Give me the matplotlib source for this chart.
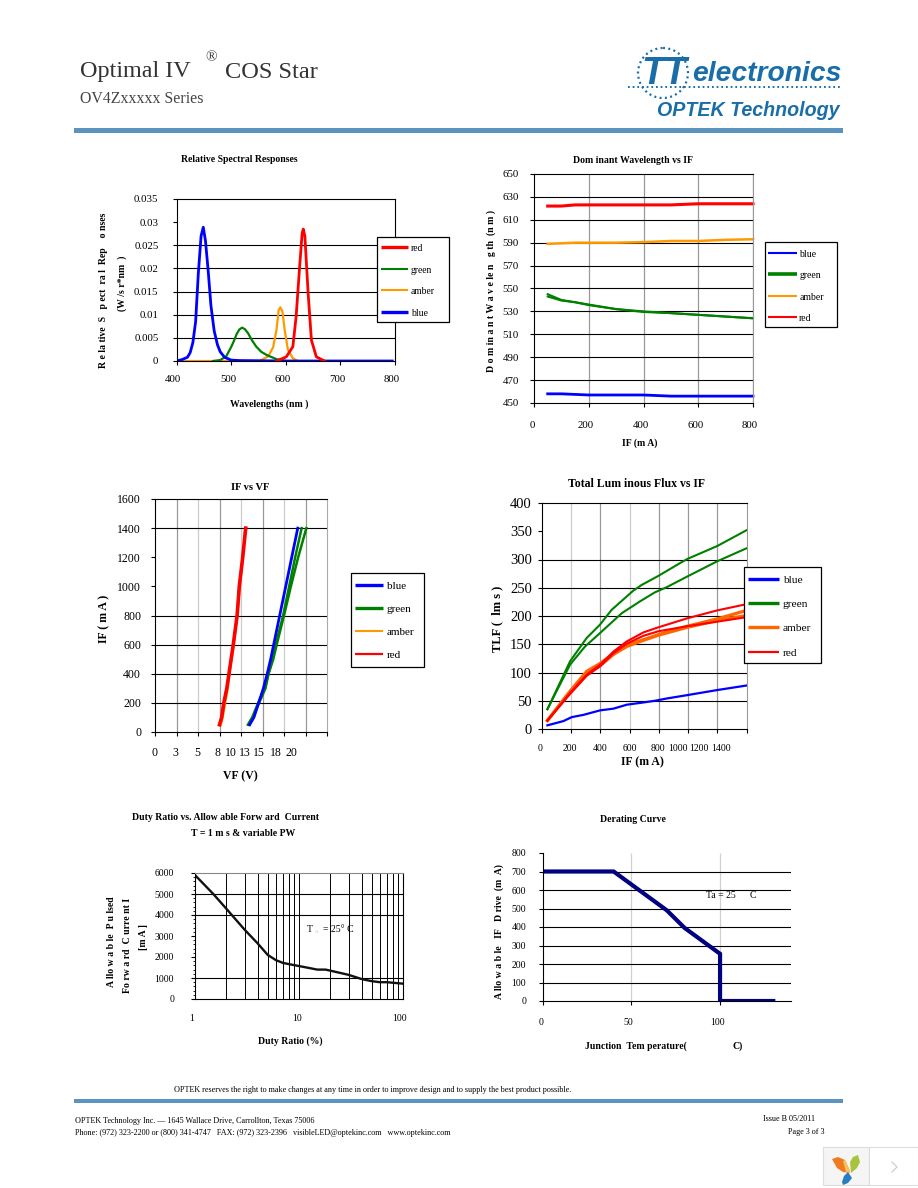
import numpy as np
from matplotlib import pyplot as plt
from matplotlib.patches import Circle, Rectangle, Polygon
from matplotlib.transforms import Affine2D

W, H = 918, 1188
SERIF = 'Liberation Serif'
BAR = '#5b93bf'
LOGO = '#1a6ea8'
RED = '#ff0000'
GREEN = '#008000'
AMBER = '#ff9900'
ORANGE = '#ff6600'
BLUE = '#0000ff'

# Relative spectral response
spec_blue_x = [400, 410, 420, 425, 430, 435, 440, 445, 449, 453, 458, 463, 469, 475, 480, 488, 500, 515, 600, 795]
spec_blue_y = [0, .0003, .0008, .0018, .004, .0085, .019, .027, .0289, .026, .0195, .012, .0065, .0035, .002, .0008, .0002, .0001, 0, 0]
spec_green_x = [467, 480, 491, 500, 505, 510, 515, 520, 525, 531, 538, 546, 555, 565, 583, 601]
spec_green_y = [0, .0002, .001, .003, .0043, .0058, .0068, .0072, .0069, .006, .0045, .0031, .002, .0013, .0004, 0]
spec_amber_x = [405, 552, 568, 577, 583, 587, 590, 594, 598, 604, 613, 622]
spec_amber_y = [0, 0, .001, .003, .0067, .011, .0116, .0107, .0067, .0024, .0006, 0]
spec_red_x = [583, 601, 613, 619, 625, 630, 632, 635, 641, 647, 656, 671]
spec_red_y = [0, .0009, .0031, .0096, .0197, .0276, .0285, .027, .0146, .0045, .0009, 0]

# Dominant wavelength
dom_x = [50, 100, 150, 200, 300, 400, 500, 600, 700, 800]
dom_blue = [458, 458, 457.5, 457, 457, 457, 456, 456, 456, 456]
dom_green1 = [545, 540, 538, 536, 532, 530, 528.5, 527, 525.5, 524]
dom_green2 = [543, 539.5, 538, 535.5, 532, 529.5, 528.5, 527, 525.5, 524]
dom_amber = [589, 589.5, 590, 590, 590, 590.5, 591.5, 591.5, 592.5, 593]
dom_red = [622, 622, 623, 623, 623, 623, 623, 624, 624, 624]

# IF vs VF
vf_if = [50, 100, 200, 300, 400, 500, 600, 800, 1000, 1200, 1400]
vf_blue = [11.0, 11.5, 12.05, 12.6, 13.05, 13.45, 13.8, 14.5, 15.2, 15.9, 16.6]
vf_green1 = [10.8, 11.3, 12.0, 12.75, 13.2, 13.65, 14.05, 14.9, 15.6, 16.3, 17.05]
vf_green2 = [11.0, 11.4, 12.1, 12.85, 13.2, 13.75, 14.15, 15.0, 15.8, 16.65, 17.6]
vf_amber = [7.65, 7.85, 8.15, 8.45, 8.65, 8.9, 9.15, 9.55, 9.85, 10.2, 10.5]
vf_red = [7.5, 7.75, 8.0, 8.35, 8.6, 8.85, 9.1, 9.55, 9.8, 10.2, 10.55]

# Total luminous flux
tlf_green1_x = [39, 194, 307, 399, 478, 626, 683, 797, 934, 995, 1200, 1400]
tlf_green1 = [35, 120, 161, 185, 211, 245, 255, 271, 292, 301, 324, 352]
tlf_green2_x = [39, 194, 296, 399, 547, 672, 774, 854, 995, 1200, 1400]
tlf_green2 = [35, 114, 146, 170, 205, 226, 242, 251, 270, 297, 320]
tlf_x = [39, 194, 307, 399, 490, 581, 695, 797, 995, 1200, 1400]
tlf_red1 = [15, 64, 96, 114, 137, 155, 171, 180, 196, 210, 221]
tlf_red2 = [15, 62, 94, 111, 134, 151, 165, 173, 182, 190, 198]
tlf_amber1 = [15, 67, 102, 116, 133, 149, 158, 167, 182, 195, 210]
tlf_amber2 = [15, 66, 99, 112, 132, 146, 157, 166, 180, 192, 201]
tlf_blue_x = [39, 148, 205, 285, 399, 490, 581, 695, 774, 854, 995, 1200, 1400]
tlf_blue = [6.5, 14, 21, 25, 33, 36, 43, 47, 50, 54, 60, 69, 77]

# Duty ratio
duty_x = [1, 1.5, 2, 3, 4, 5, 6, 7, 8, 10, 15, 18, 20, 30, 40, 50, 60, 70, 100]
duty_y = [5900, 5000, 4300, 3300, 2650, 2100, 1850, 1720, 1660, 1570, 1400, 1400, 1350, 1150, 950, 850, 800, 800, 730]

# Derating
der_x = [0, 40, 50, 55, 70, 80, 100, 100, 130]
der_y = [700, 700, 630, 595, 490, 395, 255, 0, 0]

plt.rcParams['font.family'] = [SERIF, 'DejaVu Serif']
plt.rcParams['axes.linewidth'] = 0.8

fig = plt.figure(figsize=(W / 100, H / 100), dpi=100)
page = fig.add_axes([0, 0, 1, 1], zorder=5)
page.set_xlim(0, W)
page.set_ylim(H, 0)
page.axis('off')
page.patch.set_alpha(0)


def make_axes(left, right, top, bottom):
    return fig.add_axes([left / W, 1 - bottom / H, (right - left) / W, (bottom - top) / H])


def shift_labels(ax, shifts):
    # Excel squeezed its tick labels to the left of the ticks
    for label, dx in zip(ax.get_xticklabels(), shifts):
        label.set_transform(label.get_transform() + Affine2D().translate(dx, 0))


def style(ax, size, pad_x, pad_y=3):
    ax.tick_params(axis='x', labelsize=size, length=3, width=0.8, pad=pad_x)
    ax.tick_params(axis='y', labelsize=size, length=3, width=0.8, pad=pad_y)
    ax.set_axisbelow(True)


def text(x, y, s, size=7, bold=True, rot=0, ha='center', color='black', family=SERIF, style_='normal'):
    page.text(x, y, s, fontsize=size, fontweight='bold' if bold else 'normal', rotation=rot, ha=ha, va='center',
              color=color, family=family, style=style_)


def legend_box(box, handle, text_x, rows, size):
    # box = left, right, top, bottom in page pixels
    left, right, top, bottom = box
    page.add_patch(Rectangle((left, top), right - left, bottom - top, fc='white', ec='black', lw=0.9, zorder=3))
    for y, (color, name, lw) in rows:
        page.plot(handle, [y, y], color=color, lw=lw, zorder=4, solid_capstyle='butt')
        text(text_x, y + 1.5, name, size, False, ha='left')


# Header
text(80, 72, 'Optimal IV', 17.4, False, ha='left', color='#333333')
text(211, 58, '®', 11, False, color='#333333')
text(225, 72, 'COS Star', 17.6, False, ha='left', color='#333333')
text(80, 99, 'OV4Zxxxxx Series', 11.4, False, ha='left', color='#444444')
page.add_patch(Rectangle((74, 128), 769, 5, color=BAR, lw=0))
page.add_patch(Rectangle((74, 1099), 769, 3.5, color=BAR, lw=0))

# Logo
page.add_patch(Circle((663, 73), 25, fill=False, ec=LOGO, lw=1.6, ls=(0, (0.9, 1.5))))
page.plot([628, 841], [86.7, 86.7], color=LOGO, lw=1.4, ls=(0, (0.9, 1.5)), zorder=1)
text(664, 74, 'TT', 27, True, color=LOGO, family='Liberation Sans', style_='italic')
text(692, 74, 'electronics', 20.3, True, ha='left', color=LOGO, family='Liberation Sans', style_='italic')
text(657, 110, 'OPTEK Technology', 14.1, True, ha='left', color=LOGO, family='Liberation Sans', style_='italic')

# Footer
text(174, 1090, 'OPTEK reserves the right to make changes at any time in order to improve design and to supply the best product possible.', 5.9, False, ha='left')
text(75, 1121, 'OPTEK Technology Inc. — 1645 Wallace Drive, Carrollton, Texas 75006', 5.9, False, ha='left')
text(75, 1133, 'Phone: (972) 323-2200 or (800) 341-4747   FAX: (972) 323-2396   visibleLED@optekinc.com   www.optekinc.com', 5.9, False, ha='left')
text(763, 1119, 'Issue B 05/2011', 5.9, False, ha='left')
text(788, 1132, 'Page 3 of 3', 5.9, False, ha='left')

# Viewer widget in the corner
page.add_patch(Rectangle((822.5, 1146.5), 46, 38.5, fc='#f5f5f5', ec='#dddddd', lw=0.8))
page.add_patch(Rectangle((868.5, 1146.5), 49, 38.5, fc='white', ec='#dddddd', lw=0.8))
page.add_patch(Polygon([(832, 1159), (838, 1157), (845, 1160), (850, 1171), (850, 1173), (843, 1172), (837, 1168)], fc='#ee7a22', lw=0))
page.add_patch(Polygon([(843, 1161), (845, 1160), (850, 1171), (850, 1173), (846, 1172)], fc='#f7c35a', lw=0))
page.add_patch(Polygon([(851, 1173), (850, 1162), (853, 1157), (858, 1155), (860, 1162), (857, 1168)], fc='#a9c43c', lw=0))
page.add_patch(Polygon([(848, 1172), (852, 1178), (848, 1183), (843, 1185), (842, 1182), (844, 1176)], fc='#2a7cc0', lw=0))
page.plot([892, 897, 892], [1162, 1167, 1172], color='#c8c8c8', lw=0.8)

# 1. Relative spectral response
ax = make_axes(176.5, 395, 199, 361)
ax.hlines([.005, .01, .015, .02, .025], 400, 800, color='black', lw=0.8)
ax.plot(spec_amber_x, spec_amber_y, color=AMBER, lw=1.6)
ax.plot(spec_green_x, spec_green_y, color=GREEN, lw=1.6)
ax.plot(spec_blue_x, spec_blue_y, color=BLUE, lw=2)
ax.plot(spec_red_x, spec_red_y, color=RED, lw=2)
ax.set_xlim(400, 800)
ax.set_ylim(0, .035)
ax.set_xticks([400, 500, 600, 700, 800])
ax.set_yticks([0, .005, .01, .015, .02, .025, .03, .035])
ax.set_yticklabels(['0', '0.005', '0.01', '0.015', '0.02', '0.025', '0.03', '0.035'])
style(ax, 7.8, 7, 10)
shift_labels(ax, [-4, -3, -3, -3.5, -3])
legend_box((377, 449, 236.7, 322), (380.7, 408), 411,
           [(247, (RED, 'red', 2.4)), (269, (GREEN, 'green', 1.5)), (290, (AMBER, 'amber', 1.5)), (311.7, (BLUE, 'blue', 2.4))], 6.9)
text(239, 159, 'Relative Spectral Responses', 7)
text(104, 290.5, 'R e la tive  S   p ect  ra l  Rep    o nses', 7, rot=90)
text(122, 283, '(W /s r*nm  )', 7, rot=90)
text(269, 404, 'Wavelengths (nm )', 7)

# 2. Dominant wavelength
ax = make_axes(534, 753, 174, 403)
ax.vlines([200, 400, 600, 800], 450, 650, color='#999999', lw=0.9)
ax.hlines([470, 490, 510, 530, 550, 570, 590, 610, 630], 0, 800, color='black', lw=0.8)
ax.plot(dom_x, dom_red, color=RED, lw=2.2, clip_on=False)
ax.plot(dom_x, dom_amber, color=AMBER, lw=1.8, clip_on=False)
ax.plot(dom_x, dom_green1, color=GREEN, lw=1.5, clip_on=False)
ax.plot(dom_x, dom_green2, color=GREEN, lw=1.5, clip_on=False)
ax.plot(dom_x, dom_blue, color=BLUE, lw=2, clip_on=False)
ax.set_xlim(0, 800)
ax.set_ylim(450, 650)
ax.set_xticks([0, 200, 400, 600, 800])
ax.set_yticks(np.arange(450, 651, 20))
ax.spines['right'].set_color('#999999')
style(ax, 7.8, 10, 8)
shift_labels(ax, [-2, -3, -3, -3, -3])
legend_box((765, 837.3, 242, 327.3), (768.3, 796.7), 799.3,
           [(252.7, (BLUE, 'blue', 1.5)), (274.3, (GREEN, 'green', 2.6)), (295.7, (AMBER, 'amber', 1.5)), (316.7, (RED, 'red', 1.5))], 7)
text(633, 160.5, 'Dom inant Wavelength vs IF', 7)
text(491, 291, 'D o m in a n t W a v e le n   g th  (n m )', 7, rot=90)
text(640, 443, 'IF (m A)', 7)

# 3. IF vs VF
ax = make_axes(155, 327, 499, 732)
ax.vlines([2.5, 7.5, 12.5, 17.5], 0, 1600, color='#999999', lw=0.9)
ax.vlines([5, 10, 15], 0, 1600, color='#cccccc', lw=0.9)
ax.hlines([200, 400, 600, 800, 1400], 0, 20, color='black', lw=0.8)
ax.plot(vf_green1, vf_if, color=GREEN, lw=1.8)
ax.plot(vf_green2, vf_if, color=GREEN, lw=1.8)
ax.plot(vf_blue, vf_if, color=BLUE, lw=2)
ax.plot(vf_amber, vf_if, color=AMBER, lw=1.8)
ax.plot(vf_red, vf_if, color=RED, lw=2.6)
ax.set_xlim(0, 20)
ax.set_ylim(0, 1600)
ax.set_xticks(np.arange(0, 20.1, 2.5))
ax.set_xticklabels(['0', '3', '5', '8', '10', '13', '15', '18', '20'])
ax.set_yticks(np.arange(0, 1601, 200))
ax.spines['right'].set_color('#aaaaaa')
style(ax, 8.5, 8, 7)
shift_labels(ax, [-1, -0.7, -1, -2.3, -10, -17.7, -24.7, -29.7, -36])
legend_box((351.3, 424.3, 573.3, 666.7), (355.3, 383.3), 386.7,
           [(585, (BLUE, 'blue', 2.4)), (608, (GREEN, 'green', 2.4)), (631.3, (AMBER, 'amber', 1.5)), (654, (RED, 'red', 1.6))], 8)
text(250, 487, 'IF vs VF', 7.5)
text(104, 619, 'IF ( m A )', 8.5, rot=90)
text(240, 776, 'VF (V)', 8.5)

# 4. Total luminous flux
ax = make_axes(541.7, 746.7, 503, 729)
ax.vlines([400, 800, 1000, 1200], 0, 400, color='#999999', lw=0.9)
ax.vlines([200, 600], 0, 400, color='#cccccc', lw=0.9)
ax.hlines([50, 100, 150, 200, 250, 300], 0, 1400, color='black', lw=0.8)
ax.plot(tlf_green1_x, tlf_green1, color=GREEN, lw=1.5, clip_on=False)
ax.plot(tlf_green2_x, tlf_green2, color=GREEN, lw=1.5, clip_on=False)
ax.plot(tlf_x, tlf_amber1, color=ORANGE, lw=2.3, clip_on=False)
ax.plot(tlf_x, tlf_amber2, color=ORANGE, lw=2.3, clip_on=False)
ax.plot(tlf_x, tlf_red1, color=RED, lw=1.5, clip_on=False)
ax.plot(tlf_x, tlf_red2, color=RED, lw=1.5, clip_on=False)
ax.plot(tlf_blue_x, tlf_blue, color=BLUE, lw=1.6, clip_on=False)
ax.set_xlim(0, 1400)
ax.set_ylim(0, 400)
ax.set_xticks(np.arange(0, 1401, 200))
ax.set_yticks(np.arange(0, 401, 50))
ax.spines['right'].set_color('#999999')
style(ax, 10.5, 8, 4)
ax.tick_params(axis='x', labelsize=7)
shift_labels(ax, [-1.7, -1, 0, 0, -0.7, -10, -18.7, -26])
legend_box((744.3, 821.3, 567.3, 663.3), (747.7, 779.3), 782.7,
           [(579.3, (BLUE, 'blue', 2.4)), (603.3, (GREEN, 'green', 2.4)), (627.3, (ORANGE, 'amber', 2.4)), (652, (RED, 'red', 1.6))], 8.2)
text(637, 484, 'Total Lum inous Flux vs IF', 8.5)
text(497, 619, 'TLF (  lm s )', 9, rot=90)
text(642, 762, 'IF (m A)', 8.5)

# 5. Duty ratio
ax = make_axes(195, 403, 873, 999)
ax.set_xscale('log')
grid_x = [2, 3, 4, 5, 6, 7, 8, 9, 10, 20, 30, 40, 50, 60, 70, 80, 90]
ax.vlines(grid_x, 0, 6000, color='black', lw=0.7)
ax.hlines([1000, 4000, 5000], 1, 100, color='black', lw=0.8)
ax.plot(duty_x, duty_y, color='#111111', lw=1.7)
ax.set_xlim(1, 100)
ax.set_ylim(0, 6000)
ax.set_xticks([1, 10, 100])
ax.set_xticklabels(['1', '10', '100'])
ax.set_xticks([], minor=True)
ax.set_yticks(np.arange(0, 6001, 1000))
ax.set_yticks(np.arange(0, 6001, 200), minor=True)
ax.tick_params(axis='y', which='minor', length=1.5, width=0.6)
ax.spines['top'].set_color('#888888')
style(ax, 7, 11, 12)
ax.tick_params(axis='x', length=0)
shift_labels(ax, [-3, -2, -3])
text(225, 817, 'Duty Ratio vs. Allow able Forw ard  Current', 7)
text(243, 834, 'T = 1 m s & variable PW', 7)
text(111, 942, 'A llo w a b le  P u lsed', 7, rot=90)
text(127, 945.5, 'Fo rw a rd  C urre nt I', 7, rot=90)
text(144, 937, '[m A ]', 7, rot=90)
text(290, 1041, 'Duty Ratio (%)', 7)
text(310, 929, 'T', 7, False)
text(316.5, 932, 'A', 3.5, False, color='#bbbbbb')
text(323, 929, '= 25° C', 7, False, ha='left')

# 6. Derating curve
ax = make_axes(542.7, 791, 853, 1001)
ax.vlines([50, 100], 0, 800, color='#d0d0d0', lw=0.9)
ax.hlines(np.arange(100, 701, 100), 0, 140, color='black', lw=0.8)
ax.plot(der_x, der_y, color='#000080', lw=3, solid_joinstyle='miter')
ax.set_xlim(0, 140)
ax.set_ylim(0, 800)
ax.set_xticks([0, 50, 100])
ax.set_yticks(np.arange(0, 801, 100))
ax.spines['top'].set_visible(False)
ax.spines['right'].set_visible(False)
style(ax, 7, 9, 9)
ax.tick_params(axis='x', length=3)
shift_labels(ax, [-2, -3, -3])
text(633, 820, 'Derating Curve', 7)
text(499, 932, 'A llo w a b le   IF   D rive  (m  A)', 7, rot=90)
text(636, 1046, 'Junction  Tem perature(', 7)
text(738, 1046, 'C)', 7)
text(721, 895, 'Ta = 25', 7, False)
text(753, 895, 'C', 7, False)

fig.savefig('out.png', dpi=100)
